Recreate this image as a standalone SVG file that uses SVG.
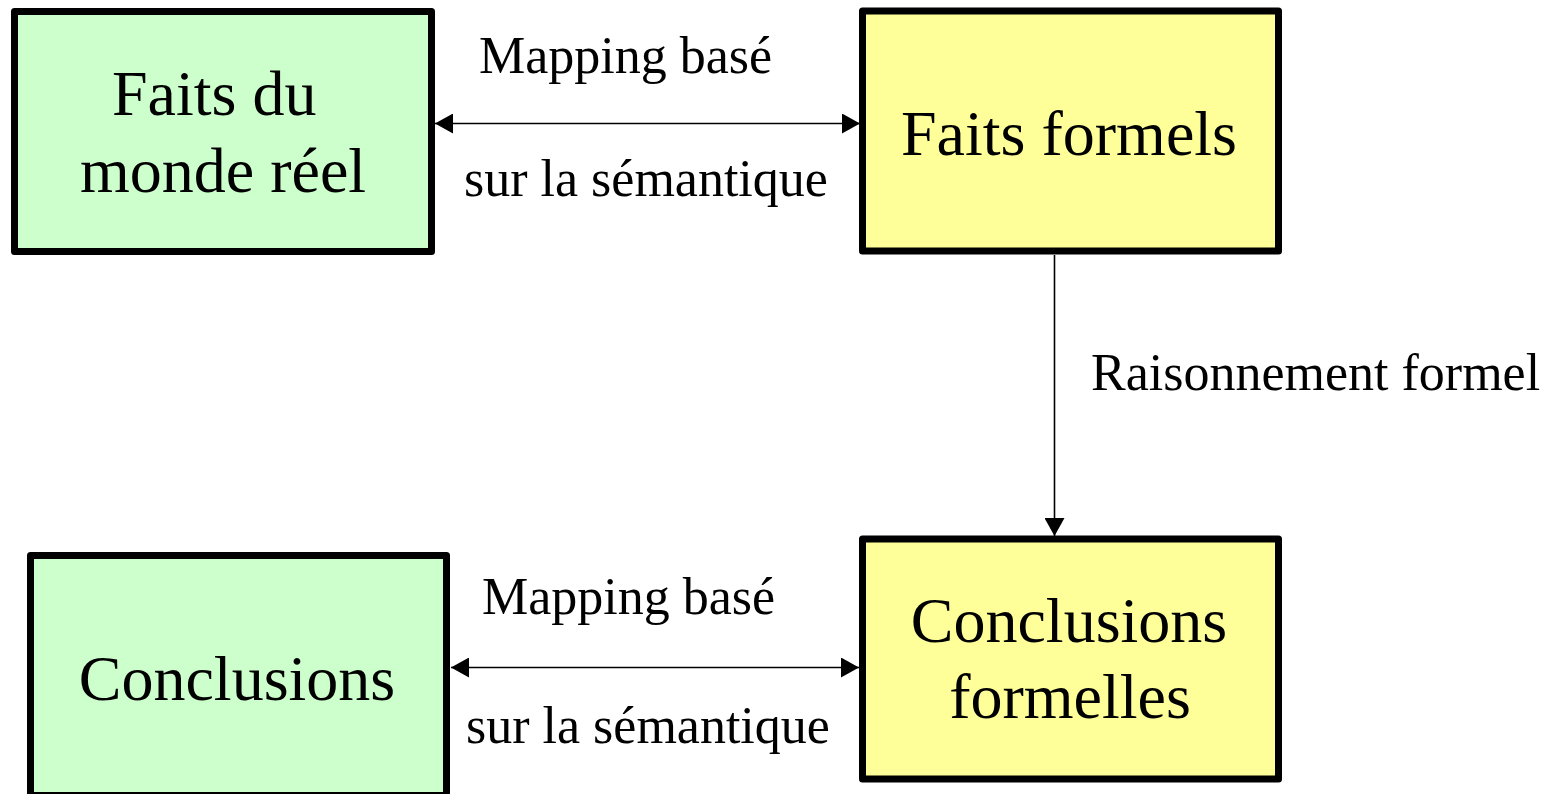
<svg xmlns="http://www.w3.org/2000/svg" width="1564" height="794" viewBox="0 0 1564 794">
<style>
.box{stroke:#000;stroke-width:7;stroke-linejoin:round}
.g{fill:#CCFFCC}
.y{fill:#FFFF99}
.t{font-family:"Liberation Serif","Times New Roman",serif;fill:#000}
.big{font-size:64px}
.lbl{font-size:52px}
.con{stroke:#000;stroke-width:1.6;fill:none}
</style>
<defs>
<marker id="ah" viewBox="0 0 18 20" refX="18" refY="10" markerWidth="18" markerHeight="20" markerUnits="userSpaceOnUse" orient="auto-start-reverse">
<path d="M0,0 L18,10 L0,20 Z" fill="#000"/>
</marker>
</defs>
<rect width="1564" height="794" fill="#fff"/>
<g id="connectors">
<line class="con" x1="435" y1="123.5" x2="860" y2="123.5" marker-start="url(#ah)" marker-end="url(#ah)"/>
<line class="con" x1="451" y1="667.5" x2="859" y2="667.5" marker-start="url(#ah)" marker-end="url(#ah)"/>
<line class="con" x1="1054.5" y1="255" x2="1054.5" y2="536" marker-end="url(#ah)"/>
<text class="t lbl" x="479" y="73">Mapping basé</text>
<text class="t lbl" x="464" y="196">sur la sémantique</text>
<text class="t lbl" x="482" y="614">Mapping basé</text>
<text class="t lbl" x="466" y="743">sur la sémantique</text>
<text class="t lbl" x="1091" y="390">Raisonnement formel</text>
</g>
<g id="node-faits-reel">
<rect class="box g" x="14.5" y="11.5" width="417" height="240"/>
<text class="t big" x="112" y="115">Faits du</text>
<text class="t big" x="80" y="192">monde réel</text>
</g>
<g id="node-faits-formels">
<rect class="box y" x="862.5" y="11" width="416" height="240"/>
<text class="t big" x="1069" y="155" text-anchor="middle">Faits formels</text>
</g>
<g id="node-conclusions">
<rect class="box g" x="30.5" y="555.5" width="416" height="240"/>
<text class="t big" x="237" y="700" text-anchor="middle">Conclusions</text>
</g>
<g id="node-conclusions-formelles">
<rect class="box y" x="862.5" y="539" width="416" height="240"/>
<text class="t big" x="1069" y="642" text-anchor="middle">Conclusions</text>
<text class="t big" x="1070" y="718" text-anchor="middle">formelles</text>
</g>
</svg>
